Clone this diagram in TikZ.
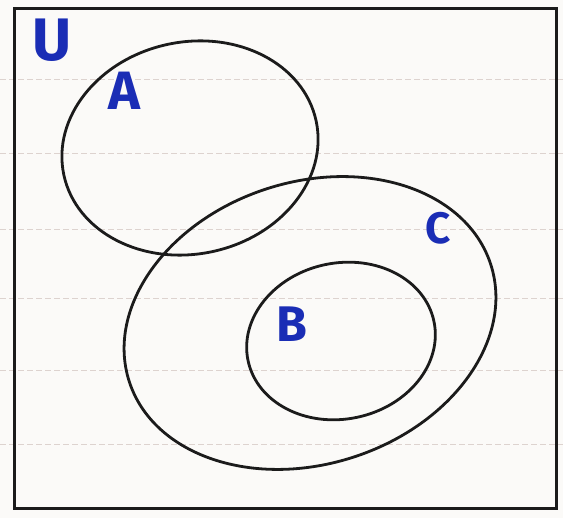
\documentclass[tikz,border=0pt]{standalone}
\usepackage{fontspec}
\setmainfont{Fira Sans}
\usetikzlibrary{shapes.geometric}
\definecolor{paper}{HTML}{FBFAF8}
\definecolor{ink}{HTML}{1B1B1B}
\definecolor{pen}{HTML}{1A2DB5}
\definecolor{rule}{HTML}{DDD3CF}
\begin{document}
\begin{tikzpicture}[x=1pt,y=-1pt,
  setshape/.style={ellipse, draw=ink, line width=2.8pt, inner sep=0pt},
  setlabel/.style={text=pen, inner sep=0pt},
  ruled/.style={draw=rule, line width=1pt, dash pattern=on 6pt off 3pt}]
\fill[paper] (0,0) rectangle (563,518);
\useasboundingbox (0,0) rectangle (563,518);
\foreach \yy in {80,154,230,299,371,445} {\draw[ruled] (0,\yy) -- (563,\yy);}
\node[draw=ink, line width=3pt, minimum width=542pt, minimum height=500pt, inner sep=0pt] (U) at (285,259) {};
\node[setshape, minimum width=258pt, minimum height=212pt, rotate=12] (A) at (190,148) {};
\node[setshape, minimum width=380pt, minimum height=282pt, rotate=18] (C) at (310,323) {};
\node[setshape, minimum width=190pt, minimum height=156pt, rotate=12] (B) at (341,341) {};
\node[setlabel, font=\bfseries\fontsize{60}{60}\selectfont] (lU) at (52,40) {U};
\node[setlabel, font=\bfseries\fontsize{54}{54}\selectfont] (lA) at (124,91) {A};
\node[setlabel, font=\bfseries\fontsize{44}{44}\selectfont] (lC) at (438,228) {C};
\node[setlabel, font=\bfseries\fontsize{50}{50}\selectfont] (lB) at (292,324) {B};
\end{tikzpicture}
\end{document}
